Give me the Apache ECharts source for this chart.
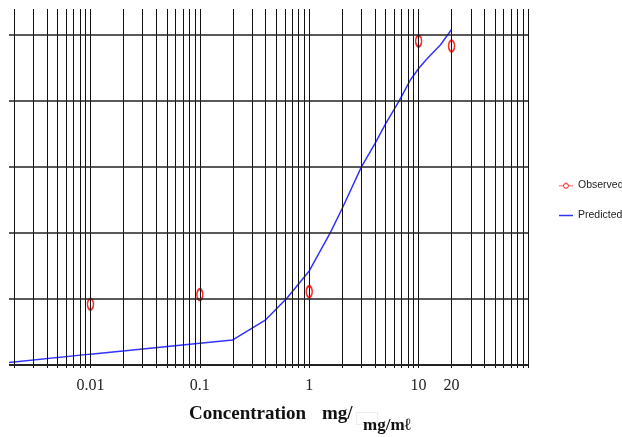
<!DOCTYPE html>
<html>
<head>
<meta charset="utf-8">
<script src="https://cdn.jsdelivr.net/npm/echarts@6/dist/echarts.min.js"></script>
<style>
  html, body { margin: 0; padding: 0; background: #fff; }
  #chart { width: 622px; height: 437px; }
</style>
</head>
<body>
<div id="chart"></div>
<script>
// observed points (concentration mg/ml, response)
const obsX = [0.01, 0.1, 1, 10, 20];
const obsY = [18.3, 21.2, 22.1, 98.0, 96.5];

// predicted curve
const predX = [0.0018, 0.01, 0.1, 0.2, 0.4, 0.63, 1, 1.56, 2, 3, 4, 5, 6.7, 8.4, 10, 12, 15.8, 20];
const predY = [0.7, 3.2, 6.5, 7.5, 13.6, 20.3, 28.4, 40, 47.3, 59.9, 67, 73, 80.1, 86.2, 89.7, 92.7, 96.8, 101.5];

const xTickLabels = [0.01, 0.1, 1, 10, 20];
const yGridValues = [0, 20, 40, 60, 80, 100];

const xMin = 0.0018, xMax = 100, yMin = -1, yMax = 107.7;

// vertical log grid lines 0.002 .. 100
const xGridValues = [];
for (let n = -3; n <= 2; n++) {
  for (let m = 1; m <= 9; m++) {
    const v = parseFloat((m * Math.pow(10, n)).toPrecision(3));
    if (v >= 0.002 && v <= 100) xGridValues.push(v);
  }
}

const gridLines = xGridValues.map(function (v) {
  return [
    { coord: [v, yMin], lineStyle: { color: '#111', width: 1, type: 'solid' } },
    { coord: [v, yMax] }
  ];
}).concat(yGridValues.map(function (v) {
  return [
    { coord: [xMin, v], lineStyle: { color: '#222', width: v === 0 ? 2 : 1.5, type: 'solid' } },
    { coord: [xMax, v] }
  ];
}));

// legend icons: line through open circle, and plain line
const obsIcon = 'path://M0,4.4H6V5.6H0Z M14,4.4H20V5.6H14Z ' +
  'M6,5A4,4 0 1,1 14,5A4,4 0 1,1 6,5Z M7.2,5A2.8,2.8 0 1,0 12.8,5A2.8,2.8 0 1,0 7.2,5Z ' +
  'M9.5,0H10.5V1.2H9.5Z';
const predIcon = 'path://M0,0H14V1.5H0Z';

const chart = echarts.init(document.getElementById('chart'));

chart.setOption({
  animation: false,
  backgroundColor: '#fff',
  grid: { left: 9, right: 94, top: 9, bottom: 69 },
  xAxis: {
    type: 'log',
    min: xMin,
    max: xMax,
    axisLine: { show: false },
    axisTick: { show: false },
    splitLine: { show: false },
    axisLabel: {
      customValues: xTickLabels,
      margin: 10,
      color: '#222',
      fontFamily: 'Liberation Serif',
      fontSize: 16,
      formatter: function (v) { return String(v); }
    }
  },
  yAxis: {
    type: 'value',
    min: yMin,
    max: yMax,
    show: false
  },
  legend: {
    orient: 'vertical',
    left: 559,
    top: 180,
    padding: 0,
    itemGap: 19,
    itemWidth: 14,
    itemHeight: 9,
    textStyle: {
      fontFamily: 'Liberation Sans',
      fontSize: 10.5, color: '#222', padding: [0, 0, 0, 0]
    },
    data: [
      { name: 'Observed', icon: obsIcon, itemStyle: { color: '#ff2a2a', borderWidth: 0 } },
      { name: 'Predicted', icon: predIcon, itemStyle: { color: '#3333ff', borderWidth: 0 } }
    ]
  },
  graphic: [
    {
      type: 'text', left: 189, top: 405,
      style: { text: 'Concentration', font: 'bold 19px "Liberation Serif"', fill: '#111' }
    },
    {
      type: 'text', left: 322, top: 405,
      style: { text: 'mg/', font: 'bold 19px "Liberation Serif"', fill: '#111' }
    },
    {
      type: 'rect', left: 356, top: 412,
      shape: { width: 21, height: 12 },
      style: { fill: '#fff', stroke: '#ddd', lineWidth: 1, lineDash: [1, 1] }
    },
    {
      type: 'text', left: 363, top: 417,
      style: { text: 'mg/mℓ', font: 'bold 17px "Liberation Serif"', fill: '#111' }
    }
  ],
  series: [
    {
      name: 'grid',
      type: 'line',
      data: [],
      silent: true,
      z: 1,
      markLine: {
        silent: true,
        symbol: 'none',
        label: { show: false },
        animation: false,
        data: gridLines
      }
    },
    {
      name: 'Observed',
      type: 'line',
      z: 4,
      data: obsX.map(function (x, i) { return [x, obsY[i]]; }),
      symbol: 'emptyCircle',
      symbolSize: [6, 11],
      itemStyle: { color: '#ff2a2a', borderWidth: 1.2 },
      lineStyle: { width: 0, opacity: 0 }
    },
    {
      name: 'Predicted',
      type: 'line',
      z: 3,
      data: predX.map(function (x, i) { return [x, predY[i]]; }),
      showSymbol: false,
      symbol: 'none',
      itemStyle: { color: '#3333ff' },
      lineStyle: { color: '#3333ff', width: 1.5 }
    }
  ]
});
</script>
</body>
</html>
